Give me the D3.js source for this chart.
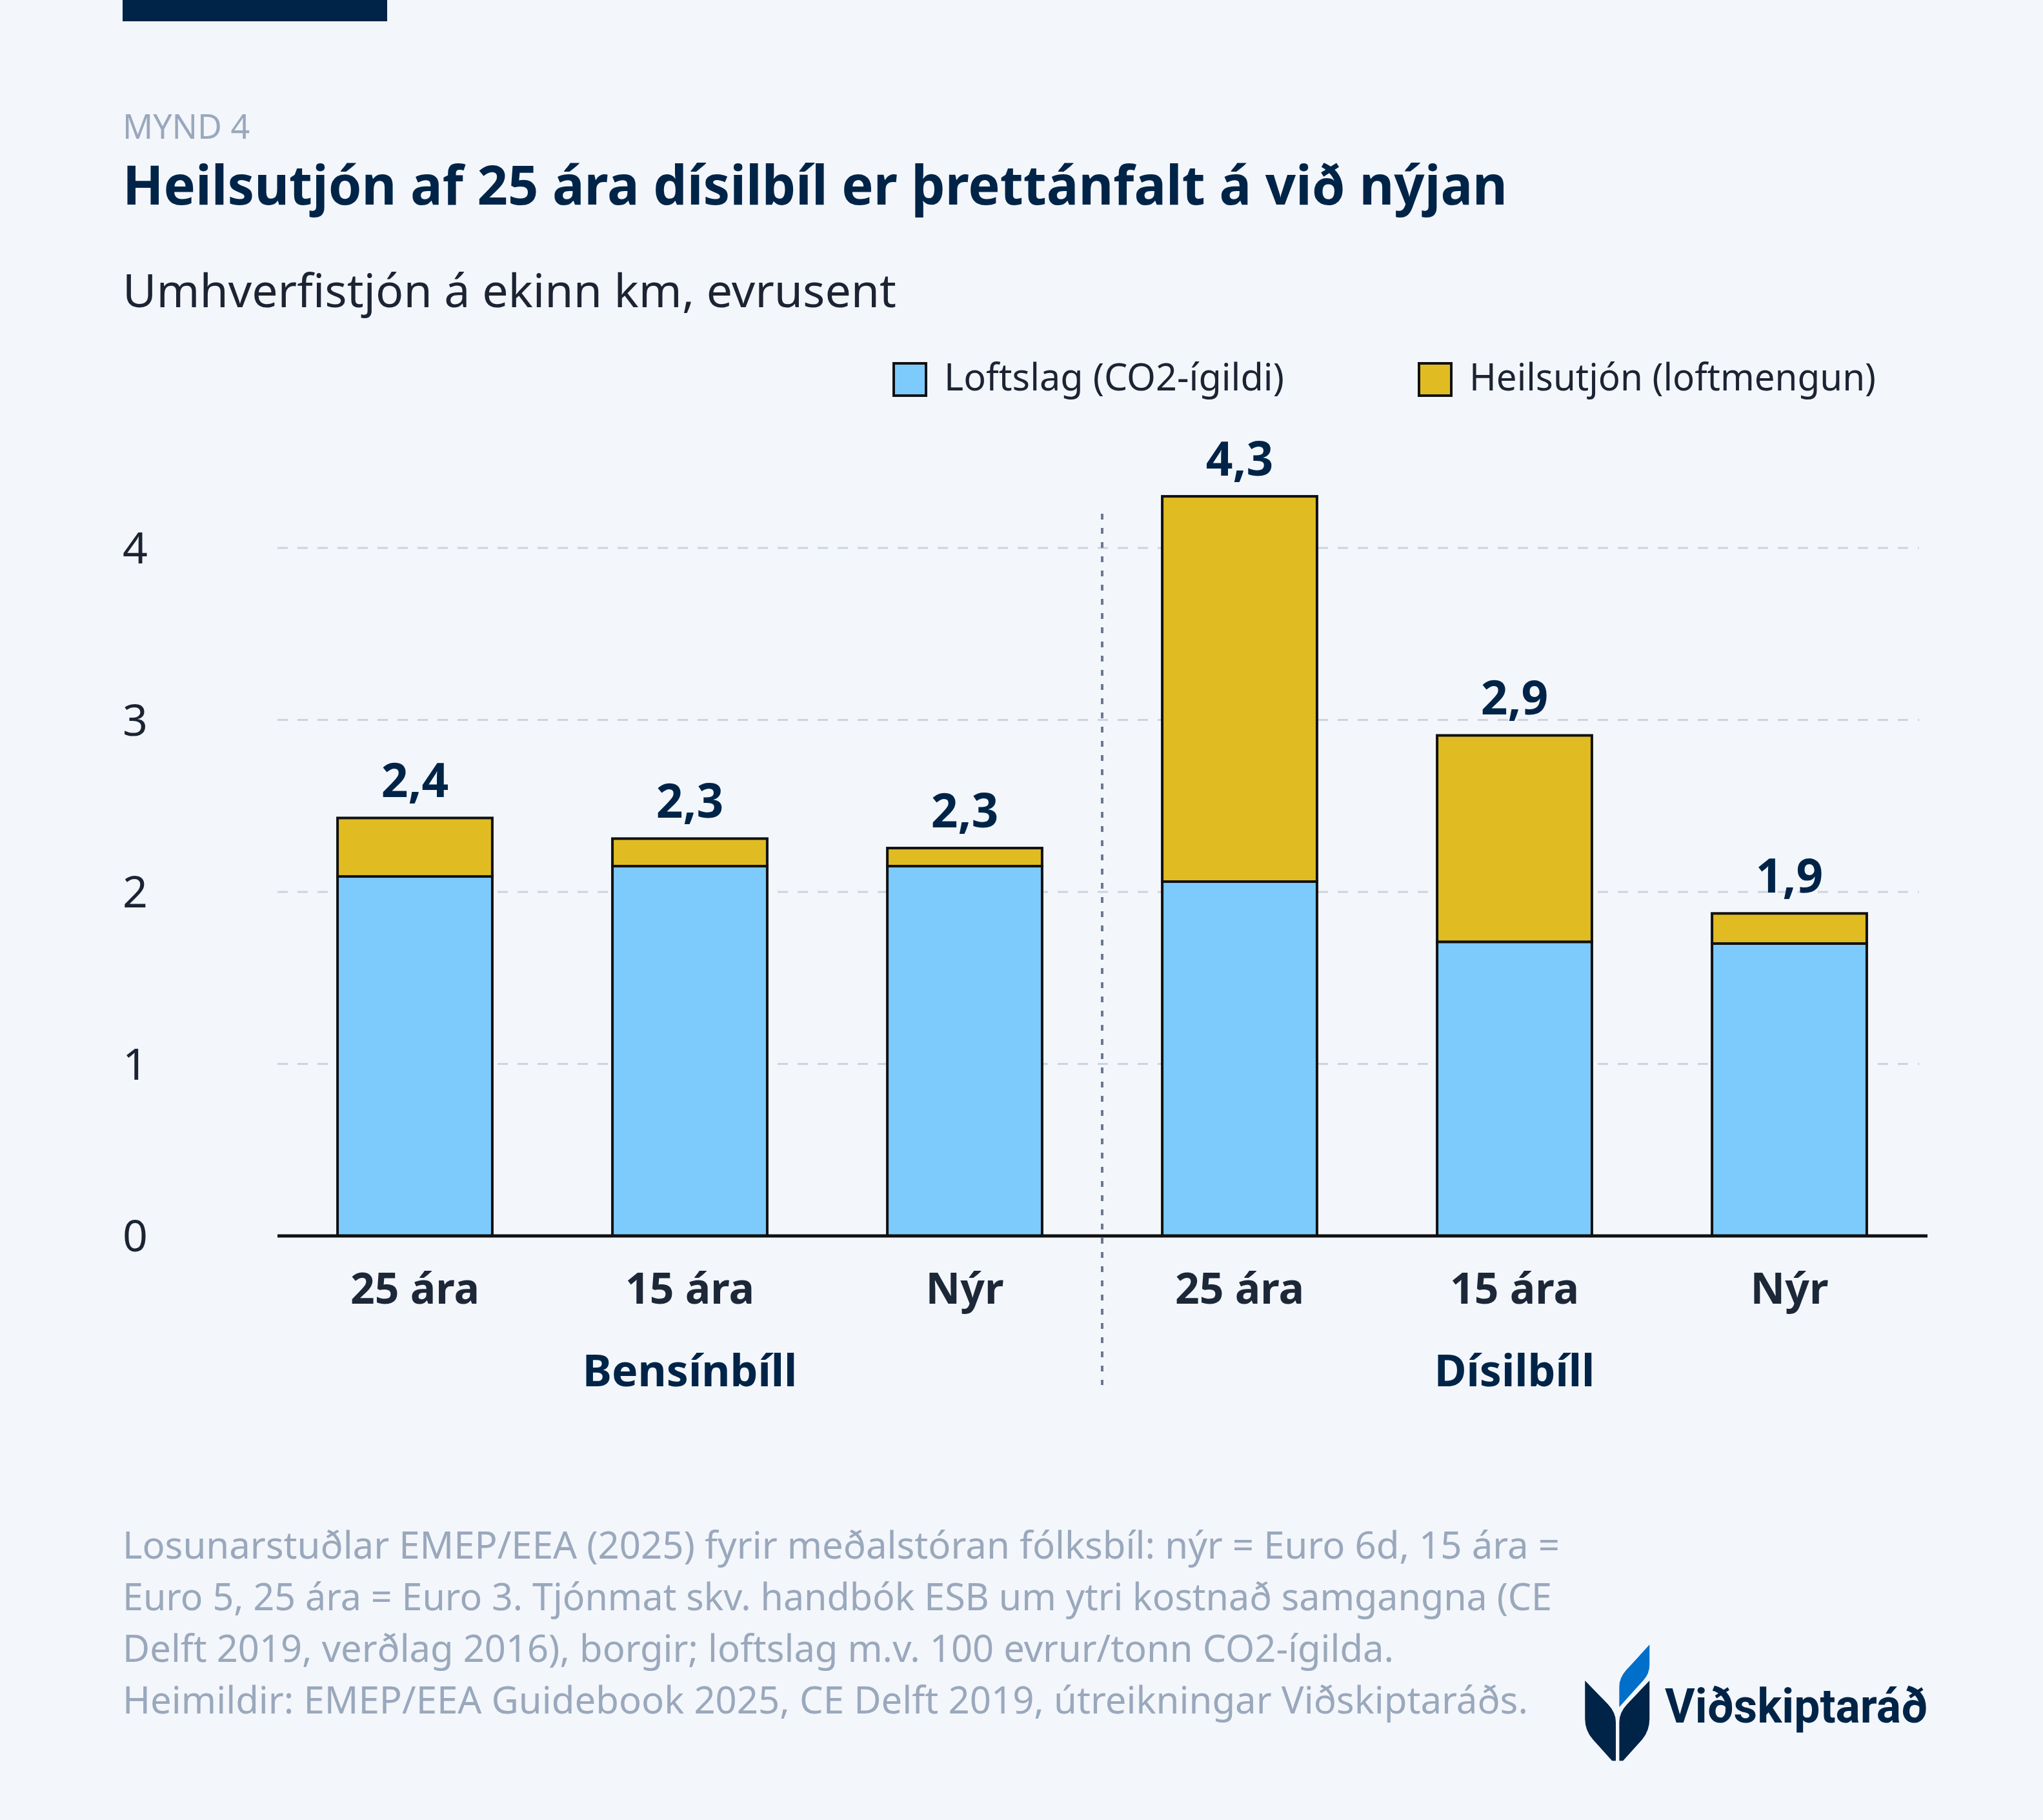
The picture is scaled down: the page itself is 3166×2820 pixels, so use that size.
<!DOCTYPE html>
<html>
<head>
<meta charset="utf-8">
<script src="https://cdn.jsdelivr.net/npm/d3@7/dist/d3.min.js"></script>
<style>
  html, body { margin: 0; padding: 0; background: #f3f6fb; }
  svg { display: block; }
  text { font-family: "Noto Sans", "IBM Plex Sans", sans-serif; }
</style>
</head>
<body>
<script>
// ---- data ----
const groups = ["Bensínbíll", "Dísilbíll"];
const categories = ["25 ára", "15 ára", "Nýr", "25 ára", "15 ára", "Nýr"];
const groupIndex = [0, 0, 0, 1, 1, 1];
const climate = [2.09, 2.15, 2.15, 2.06, 1.71, 1.70];
const health = [0.34, 0.16, 0.105, 2.24, 1.20, 0.175];
const totalLabels = ["2,4", "2,3", "2,3", "4,3", "2,9", "1,9"];
const yTicks = [0, 1, 2, 3, 4];
const seriesNames = ["Loftslag (CO2-ígildi)", "Heilsutjón (loftmengun)"];
const kicker = "MYND 4";
const title = "Heilsutjón af 25 ára dísilbíl er þrettánfalt á við nýjan";
const subtitle = "Umhverfistjón á ekinn km, evrusent";
const footerLines = [
  "Losunarstuðlar EMEP/EEA (2025) fyrir meðalstóran fólksbíl: nýr = Euro 6d, 15 ára =",
  "Euro 5, 25 ára = Euro 3. Tjónmat skv. handbók ESB um ytri kostnað samgangna (CE",
  "Delft 2019, verðlag 2016), borgir; loftslag m.v. 100 evrur/tonn CO2-ígilda.",
  "Heimildir: EMEP/EEA Guidebook 2025, CE Delft 2019, útreikningar Viðskiptaráðs."
];
const logoText = "Viðskiptaráð";

// ---- styles ----
const W = 3166, H = 2820;
const navy = "#002447";
const colBlue = "#7dcbfd";
const colYellow = "#e0bc22";
const grey = "#9aa8bc";
const dark = "#1c2433";
const footerWidths = [2227, 2215, 1970, 2178];

const svg = d3.select("body").append("svg")
  .attr("width", W).attr("height", H)
  .attr("viewBox", `0 0 ${W} ${H}`);

svg.append("rect").attr("width", W).attr("height", H).attr("fill", "#f3f6fb");

// top bar
svg.append("rect").attr("x", 190).attr("y", 0).attr("width", 410).attr("height", 33).attr("fill", navy);

svg.append("text").attr("x", 190).attr("y", 215).attr("font-size", 52).attr("fill", grey)
  .text(kicker);
svg.append("text").attr("x", 190).attr("y", 317).attr("font-size", 85).attr("font-weight", 700)
  .attr("fill", navy).attr("textLength", 2146).attr("lengthAdjust", "spacingAndGlyphs").text(title);
svg.append("text").attr("x", 190).attr("y", 476).attr("font-size", 72).attr("fill", dark)
  .attr("textLength", 1199).attr("lengthAdjust", "spacingAndGlyphs").text(subtitle);

// legend
const legendX = [1385, 2199];
const legendW = [527, 630];
const legendColors = [colBlue, colYellow];
seriesNames.forEach((n, i) => {
  svg.append("rect").attr("x", legendX[i]).attr("y", 563).attr("width", 50).attr("height", 50)
    .attr("fill", legendColors[i]).attr("stroke", "#111").attr("stroke-width", 4);
  svg.append("text").attr("x", legendX[i] + 78).attr("y", 605).attr("font-size", 58)
    .attr("fill", dark).attr("textLength", legendW[i]).attr("lengthAdjust", "spacingAndGlyphs").text(n);
});

// scales
const x = d3.scaleBand().domain(d3.range(categories.length)).range([430, 2986])
  .paddingInner(0.437).paddingOuter(0.2185);
const y = d3.scaleLinear().domain([0, 4]).range([1915, 849]);

// gridlines
svg.append("g").selectAll("line").data(yTicks.filter(d => d > 0)).join("line")
  .attr("x1", 430).attr("x2", 2974)
  .attr("y1", d => y(d)).attr("y2", d => y(d))
  .attr("stroke", "#cdd4de").attr("stroke-width", 3).attr("stroke-dasharray", "16,15");

// y tick labels
svg.append("g").selectAll("text").data(yTicks).join("text")
  .attr("x", 190).attr("y", d => y(d)).attr("dy", "0.36em")
  .attr("font-size", 68).attr("fill", dark).text(d => d);

// divider
const divX = (x(2) + x.bandwidth() + x(3)) / 2;
svg.append("line").attr("x1", divX).attr("x2", divX).attr("y1", 796).attr("y2", 2146)
  .attr("stroke", "#6b7890").attr("stroke-width", 4).attr("stroke-dasharray", "9,13");

// stacked bars
const stackData = categories.map((c, i) => ({ i, climate: climate[i], health: health[i] }));
const stack = d3.stack().keys(["climate", "health"])(stackData);
const barG = svg.append("g");
stack.forEach((layer, li) => {
  barG.append("g").selectAll("rect").data(layer).join("rect")
    .attr("x", d => x(d.data.i))
    .attr("width", x.bandwidth())
    .attr("y", d => y(d[1]))
    .attr("height", d => y(d[0]) - y(d[1]))
    .attr("fill", legendColors[li])
    .attr("stroke", "#111").attr("stroke-width", 4);
});

// axis line
svg.append("line").attr("x1", 430).attr("x2", 2987).attr("y1", y(0)).attr("y2", y(0))
  .attr("stroke", "#111").attr("stroke-width", 5);

// total labels
svg.append("g").selectAll("text").data(stackData).join("text")
  .attr("x", d => x(d.i) + x.bandwidth() / 2)
  .attr("y", d => y(d.climate + d.health) - 32)
  .attr("text-anchor", "middle").attr("font-size", 73).attr("font-weight", 700)
  .attr("fill", navy).text((d, i) => totalLabels[i]);

// category labels
svg.append("g").selectAll("text").data(categories).join("text")
  .attr("x", (d, i) => x(i) + x.bandwidth() / 2).attr("y", 2020)
  .attr("text-anchor", "middle").attr("font-size", 66).attr("font-weight", 700)
  .attr("fill", "#1c2738").text(d => d);

// group labels
svg.append("g").selectAll("text").data(groups).join("text")
  .attr("x", (g, gi) => {
    const idx = groupIndex.map((v, i) => v === gi ? i : -1).filter(i => i >= 0);
    return (x(idx[0]) + x(idx[idx.length - 1]) + x.bandwidth()) / 2;
  })
  .attr("y", 2148).attr("text-anchor", "middle").attr("font-size", 68).attr("font-weight", 700)
  .attr("fill", navy).text(d => d);

// footer
svg.append("g").selectAll("text").data(footerLines).join("text")
  .attr("x", 190).attr("y", (d, i) => 2415 + i * 80)
  .attr("font-size", 58).attr("fill", grey)
  .attr("textLength", (d, i) => footerWidths[i]).attr("lengthAdjust", "spacingAndGlyphs")
  .text(d => d);

// logo
const logo = svg.append("g").attr("transform", "translate(2350,2480) scale(0.4464,0.3333)");
logo.append("path").attr("fill", navy)
  .attr("d", "M238,372 L318,482 Q345,520 345,565 L345,745 L332,745 L265,645 Q238,605 238,550 Z");
logo.append("path").attr("fill", navy)
  .attr("d", "M462,372 L384,482 Q357,520 357,565 L357,745 L370,745 L437,645 Q462,605 462,550 Z");
logo.append("path").attr("fill", "#006fc9")
  .attr("d", "M462,205 L462,300 Q462,340 440,372 L357,495 L357,400 Q357,360 380,325 Z");
svg.append("text").attr("x", 2580).attr("y", 2669).attr("font-size", 74).attr("font-weight", 700)
  .attr("fill", navy).attr("textLength", 407).attr("lengthAdjust", "spacingAndGlyphs")
  .style("font-family", "Roboto, sans-serif").text(logoText);
</script>
</body>
</html>
